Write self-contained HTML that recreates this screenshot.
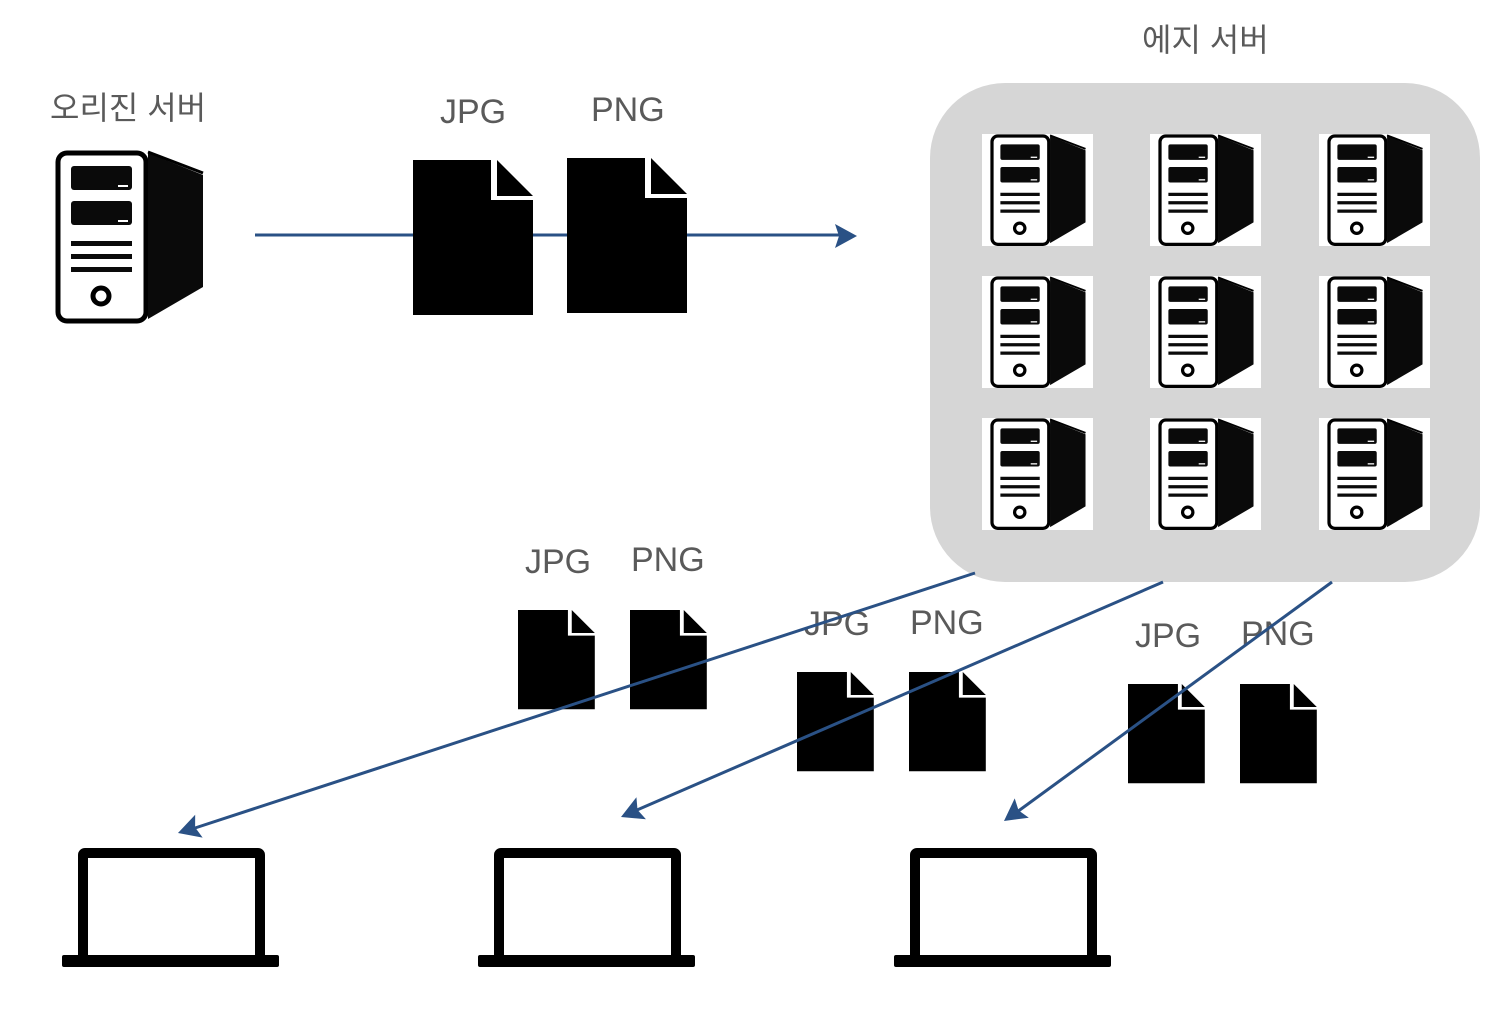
<!DOCTYPE html>
<html><head><meta charset="utf-8"><style>
html,body{margin:0;padding:0;background:#fff;}
svg{display:block}
text{font-family:"Liberation Sans","Noto Sans CJK KR",sans-serif;fill:#5a5a5a;}
</style></head><body>
<svg width="1504" height="1022" viewBox="0 0 1504 1022" xmlns="http://www.w3.org/2000/svg">
<defs>
<g id="srv">
  <rect x="0" y="0" width="88" height="168" rx="9" fill="#fff" stroke="#000" stroke-width="5"/>
  <polygon points="90,0 145,22 145,134 90,166" fill="#0a0a0a"/>
  <line x1="90" y1="-1" x2="145" y2="20" stroke="#000" stroke-width="3"/>
  <rect x="13" y="13" width="61" height="24" rx="3" fill="#0a0a0a"/>
  <rect x="13" y="48" width="61" height="24" rx="3" fill="#0a0a0a"/>
  <rect x="60" y="32" width="10" height="2" fill="#fff"/>
  <rect x="60" y="67" width="10" height="2" fill="#fff"/>
  <rect x="13" y="88" width="61" height="5" fill="#0a0a0a"/>
  <rect x="13" y="101" width="61" height="5" fill="#0a0a0a"/>
  <rect x="13" y="114" width="61" height="5" fill="#0a0a0a"/>
  <circle cx="43" cy="143" r="8" fill="none" stroke="#000" stroke-width="5"/>
</g>
<g id="file">
  <path d="M0 0 H78 V40 H120 V155 H0Z" fill="#000"/>
  <path d="M84 0 L120 36 H84Z" fill="#000"/>
</g>
<g id="laptop">
  <rect x="5" y="5" width="177" height="108" fill="none" stroke="#000" stroke-width="10" rx="2"/>
  <rect x="-16" y="107" width="217" height="12" rx="2" fill="#000"/>
</g>
<g id="ahead"><polygon points="0,0 -22,-12 -18,0 -22,12" fill="#2a5185"/></g>
</defs>

<text x="50" y="119" font-size="32">오리진 서버</text>
<use href="#srv" x="58" y="153"/>

<text x="440" y="123" font-size="34">JPG</text>
<text x="591" y="121" font-size="34">PNG</text>
<line x1="255" y1="235" x2="842" y2="235" stroke="#2a5185" stroke-width="3"/>
<use href="#ahead" transform="translate(857,236)"/>
<use href="#file" x="413" y="160"/>
<use href="#file" x="567" y="158"/>

<text x="1142" y="51" font-size="32">에지 서버</text>
<rect x="930" y="83" width="550" height="499" rx="75" fill="#d6d6d6"/>
<g>
  <rect x="982" y="134" width="111" height="112" fill="#fff"/>
  <rect x="1150" y="134" width="111" height="112" fill="#fff"/>
  <rect x="1319" y="134" width="111" height="112" fill="#fff"/>
  <rect x="982" y="276" width="111" height="112" fill="#fff"/>
  <rect x="1150" y="276" width="111" height="112" fill="#fff"/>
  <rect x="1319" y="276" width="111" height="112" fill="#fff"/>
  <rect x="982" y="418" width="111" height="112" fill="#fff"/>
  <rect x="1150" y="418" width="111" height="112" fill="#fff"/>
  <rect x="1319" y="418" width="111" height="112" fill="#fff"/>
  <use href="#srv" transform="translate(992,136) scale(0.645)"/>
  <use href="#srv" transform="translate(1160,136) scale(0.645)"/>
  <use href="#srv" transform="translate(1329,136) scale(0.645)"/>
  <use href="#srv" transform="translate(992,278) scale(0.645)"/>
  <use href="#srv" transform="translate(1160,278) scale(0.645)"/>
  <use href="#srv" transform="translate(1329,278) scale(0.645)"/>
  <use href="#srv" transform="translate(992,420) scale(0.645)"/>
  <use href="#srv" transform="translate(1160,420) scale(0.645)"/>
  <use href="#srv" transform="translate(1329,420) scale(0.645)"/>
</g>

<text x="525" y="573" font-size="34">JPG</text>
<text x="631" y="571" font-size="34">PNG</text>
<use href="#file" transform="translate(518,610) scale(0.64)"/>
<use href="#file" transform="translate(630,610) scale(0.64)"/>

<text x="804" y="635" font-size="34">JPG</text>
<text x="910" y="634" font-size="34">PNG</text>
<use href="#file" transform="translate(797,672) scale(0.64)"/>
<use href="#file" transform="translate(909,672) scale(0.64)"/>

<text x="1135" y="647" font-size="34">JPG</text>
<text x="1241" y="645" font-size="34">PNG</text>
<use href="#file" transform="translate(1128,684) scale(0.64)"/>
<use href="#file" transform="translate(1240,684) scale(0.64)"/>

<line x1="975" y1="573" x2="195" y2="828" stroke="#2a5185" stroke-width="3"/>
<use href="#ahead" transform="translate(178,833) rotate(161.9)"/>
<line x1="1163" y1="582" x2="637" y2="810" stroke="#2a5185" stroke-width="3"/>
<use href="#ahead" transform="translate(621,817) rotate(156.6)"/>
<line x1="1332" y1="582" x2="1017" y2="812" stroke="#2a5185" stroke-width="3"/>
<use href="#ahead" transform="translate(1004,821) rotate(143.9)"/>

<use href="#laptop" x="78" y="848"/>
<use href="#laptop" x="494" y="848"/>
<use href="#laptop" x="910" y="848"/>
</svg>
</body></html>
